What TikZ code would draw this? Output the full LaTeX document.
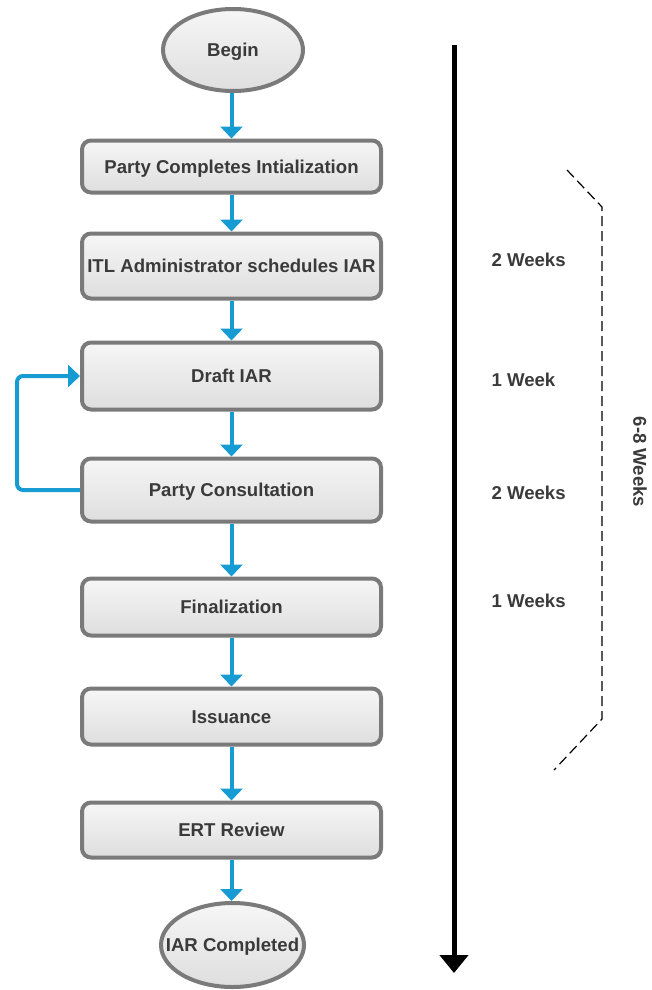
\documentclass[tikz,border=0pt]{standalone}
\usepackage{fontspec}
\setmainfont{Liberation Sans}
\usetikzlibrary{arrows.meta,shapes.geometric}
\definecolor{flowblue}{RGB}{22,156,210}
\definecolor{boxborder}{RGB}{122,122,122}
\definecolor{boxtop}{RGB}{246,246,246}
\definecolor{boxbot}{RGB}{222,222,222}
\definecolor{txt}{RGB}{58,58,58}
\tikzset{
  x=1pt,y=1pt,
  every node/.style={font=\fontsize{18.6}{20}\selectfont\bfseries, text=txt,
     text height=13.3pt, text depth=0pt},
  procbox/.style={draw=boxborder, line width=4pt, rounded corners=9pt,
     top color=boxtop, bottom color=boxbot, minimum width=299pt, inner sep=0pt},
  termbox/.style={ellipse, draw=boxborder, line width=4pt,
     top color=boxtop, bottom color=boxbot, inner sep=0pt},
  flow/.style={draw=flowblue, line width=4pt, -{Triangle[width=22pt,length=12pt]}},
  weeklbl/.style={anchor=west},
  bracket/.style={draw=black, line width=1.2pt, dash pattern=on 10pt off 5pt}
}
\begin{document}
\begin{tikzpicture}
\useasboundingbox (0,0) rectangle (651,-990);
\node[termbox, minimum width=140pt, minimum height=82pt] (begin) at (233,-50) {\makebox[0pt]{Begin}};
\node[procbox, minimum height=52pt] (b1) at (231.5,-166.5) {Party Completes Intialization};
\node[procbox, minimum height=65pt] (b2) at (231.5,-266) {ITL Administrator schedules IAR};
\node[procbox, minimum height=67pt] (b3) at (231.5,-376) {Draft IAR};
\node[procbox, minimum height=63pt] (b4) at (231.5,-490) {Party Consultation};
\node[procbox, minimum height=57pt] (b5) at (231.5,-607) {Finalization};
\node[procbox, minimum height=56pt] (b6) at (231.5,-716.5) {Issuance};
\node[procbox, minimum height=55pt] (b7) at (231.5,-830) {ERT Review};
\node[termbox, minimum width=143pt, minimum height=84pt] (end) at (232.5,-945) {\makebox[0pt]{IAR Completed}};

\draw[flow] (b1.north |- begin.south) -- (b1.north);
\draw[flow] (b1.south) -- (b2.north);
\draw[flow] (b2.south) -- (b3.north);
\draw[flow] (b3.south) -- (b4.north);
\draw[flow] (b4.south) -- (b5.north);
\draw[flow] (b5.south) -- (b6.north);
\draw[flow] (b6.south) -- (b7.north);
\draw[flow] (b7.south) -- (b7.south |- end.north);
\coordinate (lb) at (17,-490);
\coordinate (lt) at (17,-376);
\draw[flow, rounded corners=6pt] (b4.west) -- (lb) -- (lt) -- (b3.west);

\coordinate (tl0) at (454,-45);
\coordinate (tl1) at (454,-973);
\draw[line width=5pt, -{Triangle[width=28pt,length=18pt]}] (tl0) -- (tl1);

\node[weeklbl] (w1) at (488,-260) {2 Weeks};
\node[weeklbl] (w2) at (488,-380) {1 Week};
\node[weeklbl] (w3) at (488,-493) {2 Weeks};
\node[weeklbl] (w4) at (488,-601) {1 Weeks};

\coordinate (k0) at (567,-170);
\coordinate (k1) at (602,-207);
\coordinate (k2) at (602,-719);
\coordinate (k3) at (554,-770);
\draw[bracket] (k0) -- (k1) -- (k2) -- (k3);
\node[rotate=-90] (tot) at (640,-462) {6-8 Weeks};
\end{tikzpicture}
\end{document}
